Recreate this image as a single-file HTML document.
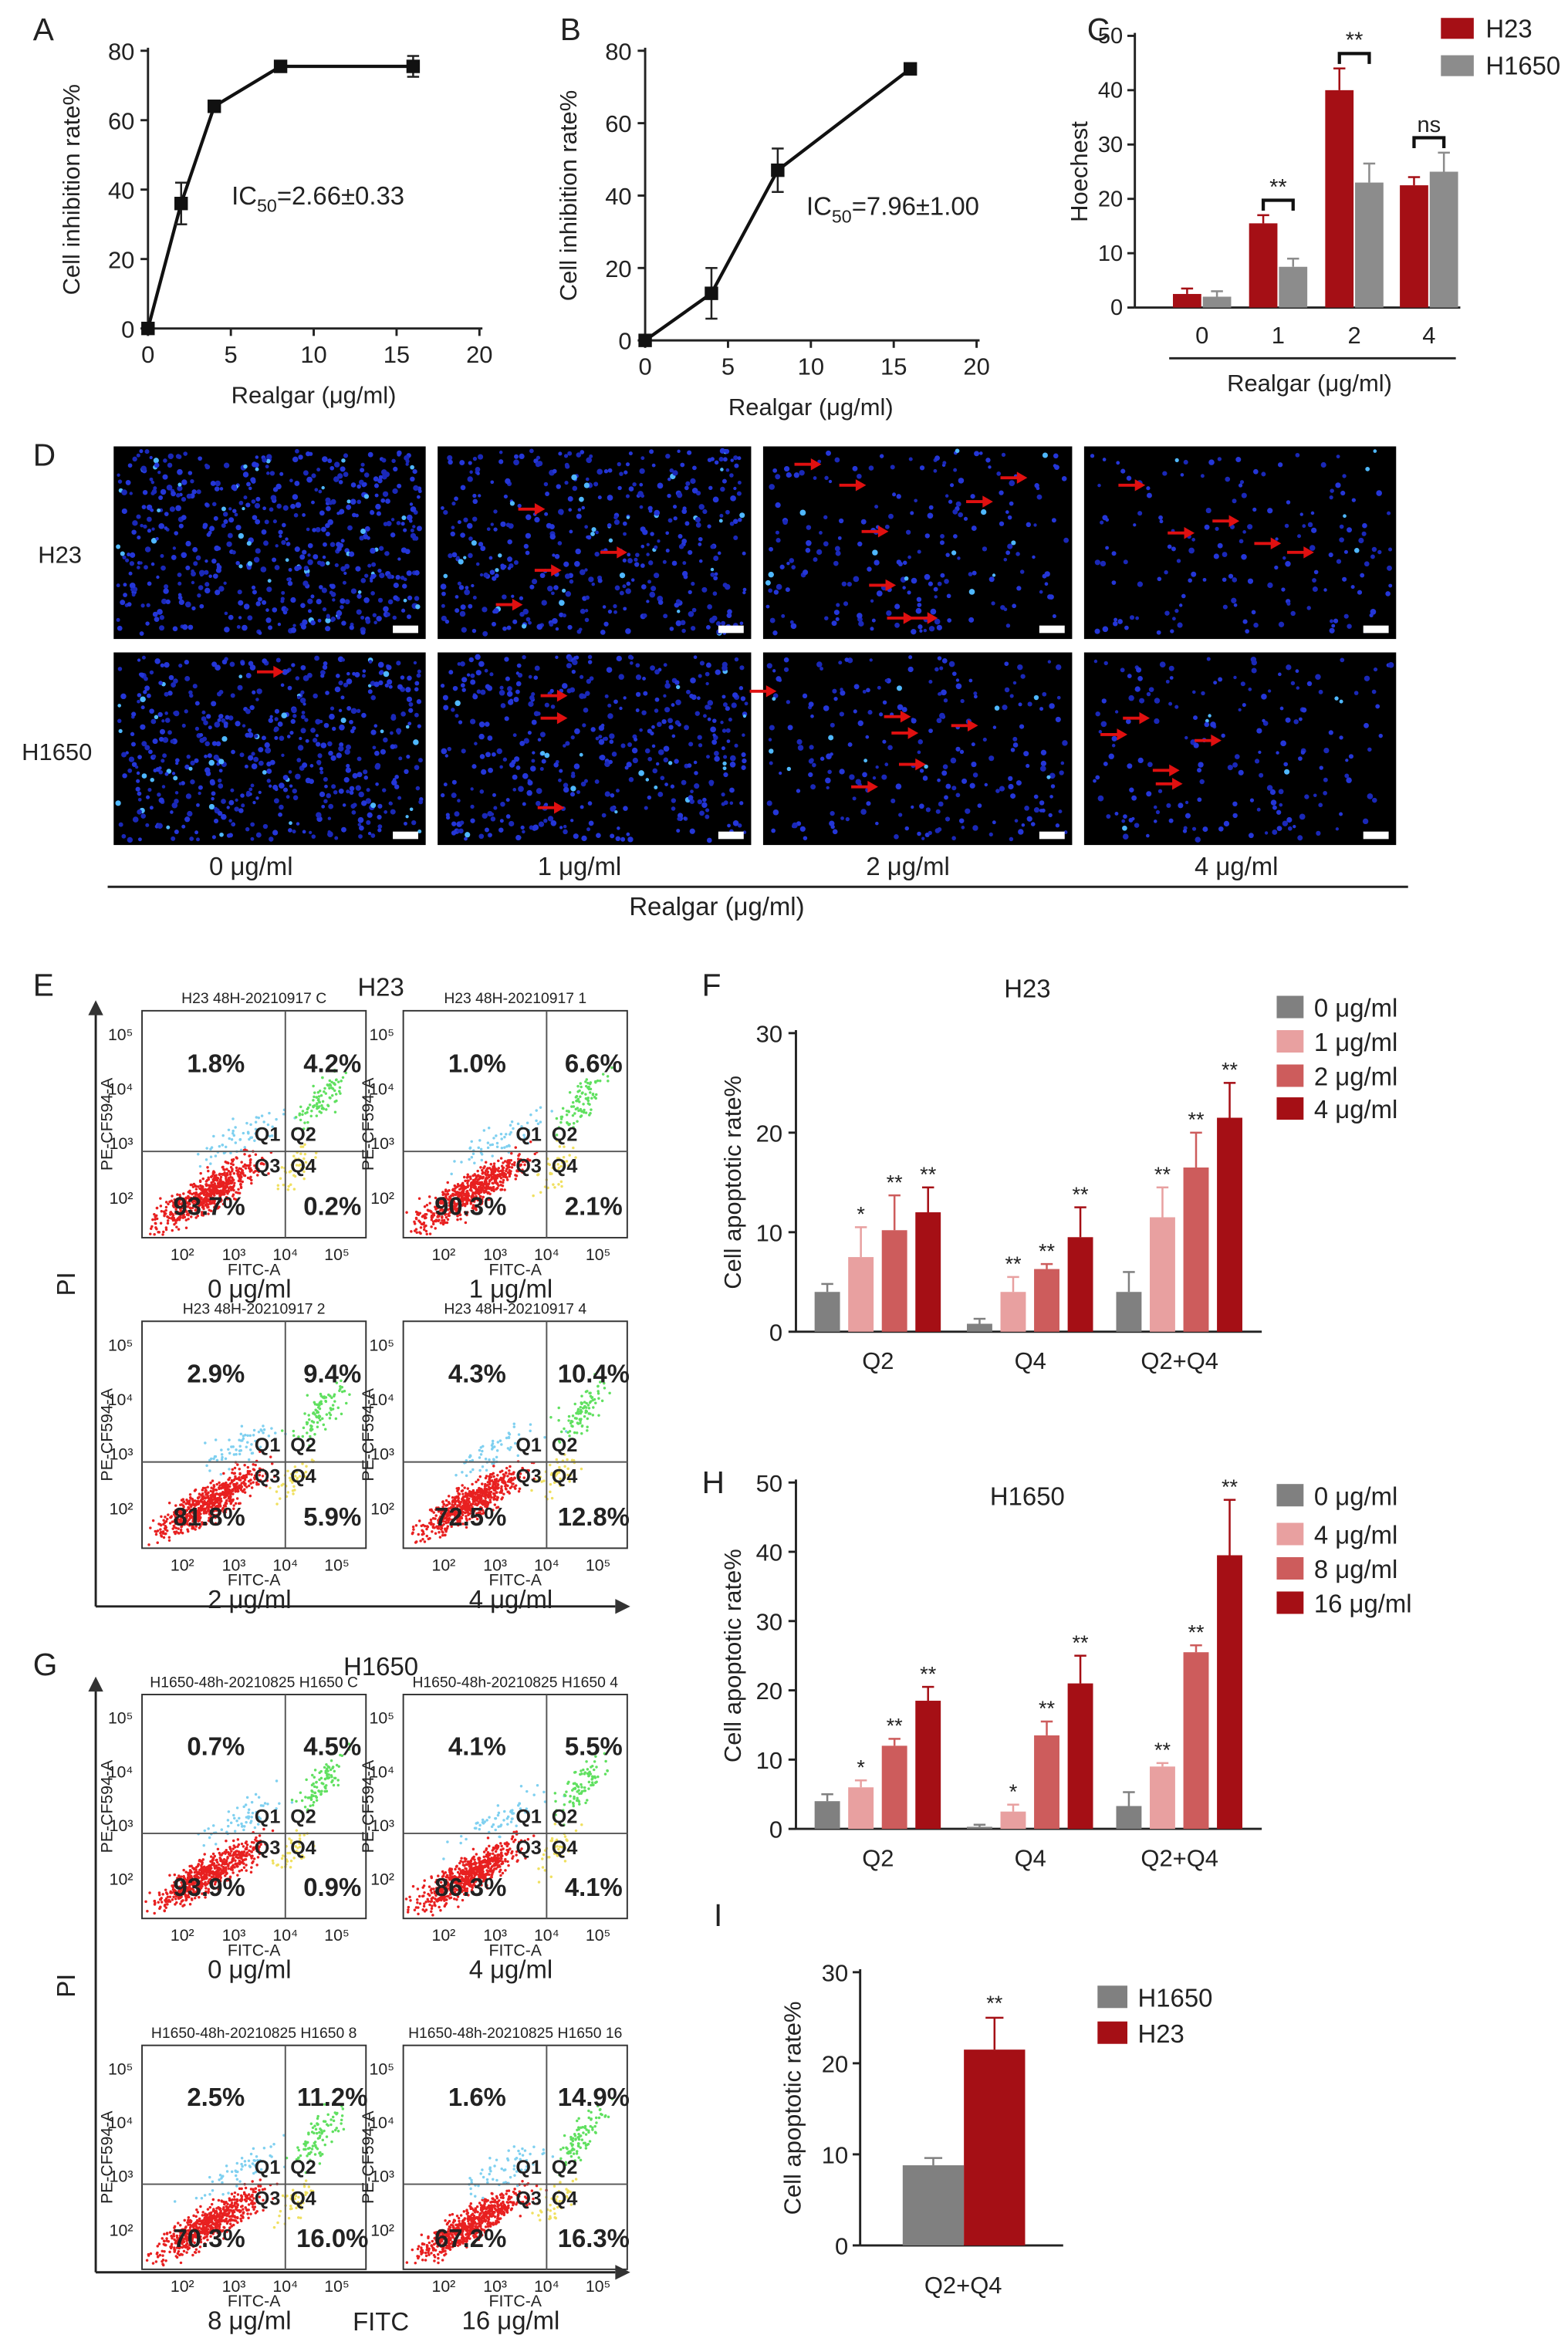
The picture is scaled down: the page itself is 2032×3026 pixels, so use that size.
<!DOCTYPE html>
<html><head><meta charset="utf-8"><style>
html,body{margin:0;padding:0;background:#fff;}
#wrap{width:2032px;height:3026px;overflow:hidden;}
text{font-family:"Liberation Sans",sans-serif;fill:#222;}
</style></head><body>
<div id="wrap">
<svg id="svg" width="2032" height="3026" viewBox="0 0 1050 1564" xmlns="http://www.w3.org/2000/svg"></svg>
</div>
<script>
// ---- data ----
const aX=[0,2,4,8,16], aY=[0,36,64,75.5,75.5], aErr=[0,6,1,0.5,3];
const bX=[0,4,8,16], bY=[0,13,47,75], bErr=[0,7,6,0.5];
const cCats=['0','1','2','4'], cH23=[2.5,15.5,40,22.5], cH1650=[2,7.5,23,25], cH23Err=[1,1.5,4,1.5], cH1650Err=[1,1.5,3.5,3.5];
const cSig=['','**','**','ns'];
const fCats=['Q2','Q4','Q2+Q4'];
const fVals=[[4,0.8,4],[7.5,4,11.5],[10.2,6.3,16.5],[12,9.5,21.5]];
const fErr=[[0.8,0.5,2],[3,1.5,3],[3.5,0.5,3.5],[2.5,3,3.5]];
const fStars=[['','',''],['*','**','**'],['**','**','**'],['**','**','**']];
const fLegend=['0 μg/ml','1 μg/ml','2 μg/ml','4 μg/ml'];
const hVals=[[4,0.3,3.3],[6,2.5,9],[12,13.5,25.5],[18.5,21,39.5]];
const hErr=[[1,0.3,2],[1,1,0.5],[1,2,1],[2,4,8]];
const hStars=[['','',''],['*','*','**'],['**','**','**'],['**','**','**']];
const hLegend=['0 μg/ml','4 μg/ml','8 μg/ml','16 μg/ml'];
const iCats=['H1650','H23'], iVals=[8.8,21.5], iErr=[0.8,3.5];
const barColors=['#808080','#e8a0a0','#cd5c5c','#a50f15'];
const flowE=[['H23 48H-20210917 C','1.8%','4.2%','93.7%','0.2%','0 μg/ml'],['H23 48H-20210917 1','1.0%','6.6%','90.3%','2.1%','1 μg/ml'],['H23 48H-20210917 2','2.9%','9.4%','81.8%','5.9%','2 μg/ml'],['H23 48H-20210917 4','4.3%','10.4%','72.5%','12.8%','4 μg/ml']];
const flowG=[['H1650-48h-20210825 H1650 C','0.7%','4.5%','93.9%','0.9%','0 μg/ml'],['H1650-48h-20210825 H1650 4','4.1%','5.5%','86.3%','4.1%','4 μg/ml'],['H1650-48h-20210825 H1650 8','2.5%','11.2%','70.3%','16.0%','8 μg/ml'],['H1650-48h-20210825 H1650 16','1.6%','14.9%','67.2%','16.3%','16 μg/ml']];

const svg=document.getElementById('svg');
const NS='http://www.w3.org/2000/svg';
function el(tag,attrs,parent,txt){const e=document.createElementNS(NS,tag);for(const k in attrs)e.setAttribute(k,attrs[k]);if(txt!==undefined)e.textContent=txt;(parent||svg).appendChild(e);return e;}
function txt(x,y,s,size,name,opts){const t=el('text',Object.assign({x:x,y:y,'font-size':size,'text-anchor':'middle'},opts||{}),null,s);


return t;}
function line(x1,y1,x2,y2,name,w,c){const l=el('line',{x1,y1,x2,y2,stroke:c||'#222','stroke-width':w||1.5});


return l;}
let seed=7;function rnd(){seed=(seed*16807)%2147483647;return (seed-1)/2147483646;}
function gauss(){return (rnd()+rnd()+rnd()-1.5)/0.5*0.5;}

// panel labels
[['A',22,27],['B',375,27],['C',728,27],['D',22,312],['E',22,667],['F',470,667],['G',22,1122],['H',470,1000],['I',478,1290]].forEach(p=>{txt(p[1],p[2],p[0],21,'panel-label-'+p[0].toLowerCase(),{'text-anchor':'start'});});

// line charts
function lineChart(key,ax,xs,ys,errs,ic,icx,icy){
 const sx=v=>ax.x0+(v/20)*(ax.x1-ax.x0), sy=v=>ax.y0-(v/80)*(ax.y0-ax.y1);
 line(ax.x0,ax.y0,ax.x0,ax.y1-2,key+'-y-axis');line(ax.x0,ax.y0,ax.x1+2,ax.y0,key+'-x-axis');
 for(let v=0;v<=80;v+=20){line(ax.x0-5,sy(v),ax.x0,sy(v),key+'-y-tick');txt(ax.x0-9,sy(v)+6,String(v),16,key+'-y-tick-label',{'text-anchor':'end'});}
 for(let v=0;v<=20;v+=5){line(sx(v),ax.y0,sx(v),ax.y0+5,key+'-x-tick');txt(sx(v),ax.y0+23,String(v),16,key+'-x-tick-label');}
 const pts=xs.map((x,i)=>sx(x)+','+sy(ys[i])).join(' ');
 const pl=el('polyline',{points:pts,fill:'none',stroke:'#111','stroke-width':2.2});
 
 
 xs.forEach((x,i)=>{const cx=sx(x),cy=sy(ys[i]);
  if(errs[i]>0.6){line(cx,sy(ys[i]+errs[i]),cx,sy(ys[i]-errs[i]),key+'-error-bar',1.3);line(cx-4,sy(ys[i]+errs[i]),cx+4,sy(ys[i]+errs[i]),key+'-error-cap',1.3);line(cx-4,sy(ys[i]-errs[i]),cx+4,sy(ys[i]-errs[i]),key+'-error-cap',1.3);}
  const r=el('rect',{x:cx-4.5,y:cy-4.5,width:9,height:9,fill:'#111'});
  
  });
 const t=txt(icx,icy,'',17,key+'-ic50-label',{'text-anchor':'start'});
 t.innerHTML='IC<tspan font-size="12" dy="5">50</tspan><tspan dy="-5">='+ic+'</tspan>';
 txt((ax.x0+ax.x1)/2,ax.y0+50,'Realgar (μg/ml)',16,key+'-x-axis-title');
 const yl=(ax.y0+ax.y1)/2;txt(ax.x0-46,yl,'Cell inhibition rate%',16,key+'-y-axis-title',{transform:'rotate(-90 '+(ax.x0-46)+' '+yl+')'});
}
lineChart('chart-a',{x0:99,x1:321,y0:220,y1:34},aX,aY,aErr,'2.66±0.33',155,137);
lineChart('chart-b',{x0:432,x1:654,y0:228,y1:34},bX,bY,bErr,'7.96±1.00',540,144);

// chart C
(function(){const x0=760,y0=206,y1=24,sy=v=>y0-(v/50)*(y0-y1);const cx=[805,856,907,957];
 line(x0,y0,x0,y1-2,'chart-c-y-axis');line(x0,y0,978,y0,'chart-c-x-axis');
 for(let v=0;v<=50;v+=10){line(x0-5,sy(v),x0,sy(v),'chart-c-y-tick');txt(x0-8,sy(v)+5,String(v),15,'chart-c-y-tick-label',{'text-anchor':'end'});}
 cCats.forEach((c,i)=>{txt(cx[i],y0+24,c,16,'chart-c-x-tick-label');
  [[cH23,cH23Err,'#a50f15',-10,'h23'],[cH1650,cH1650Err,'#8c8c8c',10,'h1650']].forEach(s=>{const bx=cx[i]+s[3];const v=s[0][i],e=s[1][i];
   const r=el('rect',{x:bx-9.5,y:sy(v),width:19,height:y0-sy(v),fill:s[2]});
   
   
   line(bx,sy(v),bx,sy(v+e),'chart-c-error-bar',1.3,s[2]);line(bx-4,sy(v+e),bx+4,sy(v+e),'chart-c-error-cap',1.3,s[2]);});
  if(cSig[i]){const top=sy(Math.max(cH23[i]+cH23Err[i],cH1650[i]+cH1650Err[i]))-10;
   const p=el('path',{d:`M${cx[i]-10} ${top+7}V${top}H${cx[i]+10}V${top+7}`,fill:'none',stroke:'#111','stroke-width':2.2});
   
   
   txt(cx[i],top-4,cSig[i],15,'chart-c-significance-label');}});
 line(783,240,975,240,'chart-c-group-line',1.5);
 txt(877,262,'Realgar (μg/ml)',16,'chart-c-x-axis-title');
 txt(728,115,'Hoechest',16,'chart-c-y-axis-title',{transform:'rotate(-90 728 115)'});
 [['H23','#a50f15',12],['H1650','#8c8c8c',37]].forEach(l=>{const r=el('rect',{x:965,y:l[2],width:22,height:14,fill:l[1]});
  
  
  txt(995,l[2]+13,l[0],17,'chart-c-legend-label',{'text-anchor':'start'});});
})();

// panel D microscopy
const cols=[[76,285],[293,503],[511,718],[726,935]],rows=[[299,428],[437,566]];
const dens=[[560,420,210,160],[520,420,230,180]];
const arrows=[[[],[[365,341],[376,382],[420,370],[350,405]],[[550,311],[580,325],[595,356],[665,336],[688,320],[600,392],[612,414],[628,414]],[[767,325],[800,357],[830,349],[858,364],[880,370]]],
[[[190,450]],[[380,466],[380,481],[378,541]],[[520,463],[610,480],[615,491],[655,486],[620,512],[588,527]],[[755,492],[770,481],[790,516],[818,496],[792,525]]]];
rows.forEach((r,ri)=>cols.forEach((c,ci)=>{const g=el('g',{});
 el('rect',{x:c[0],y:r[0],width:c[1]-c[0],height:r[1]-r[0],fill:'#000'},g);
 for(let k=0;k<dens[ri][ci];k++){const x=c[0]+3+rnd()*(c[1]-c[0]-6),y=r[0]+3+rnd()*(r[1]-r[0]-6);const q=rnd();const b=q<0.06?'#4fb8ff':(q<0.5?'#1a28b8':'#2436d8');el('circle',{cx:x,cy:y,r:1.1+rnd()*0.9,fill:b},g);}
 el('rect',{x:c[1]-22,y:r[1]-9,width:17,height:5,fill:'#fff'},g);
 arrows[ri][ci].forEach(a=>{el('line',{x1:a[0]-18,y1:a[1],x2:a[0]-4,y2:a[1],stroke:'#e01010','stroke-width':2},g);el('path',{d:`M${a[0]} ${a[1]}l-7 -4v8z`,fill:'#e01010'},g);});
}));
txt(40,377,'H23',16,'row-label-h23');txt(38,509,'H1650',16,'row-label-h1650');
['0 μg/ml','1 μg/ml','2 μg/ml','4 μg/ml'].forEach((s,i)=>txt([168,388,608,828][i],586,s,17,'microscopy-concentration-label'));
line(72,594,943,594,'microscopy-group-line',1.5);txt(480,613,'Realgar (μg/ml)',17,'microscopy-axis-title');

// flow plots
function flow(bx,by,w,h,d,key){const g=el('g',{});
 const qx=bx+w*0.64,qy=by+h*0.62;
 el('rect',{x:bx,y:by,width:w,height:h,fill:'#fff',stroke:'#333','stroke-width':1},g);
 const pts=[[ '#e82020',650,bx+w*0.3,by+h*0.8,0.22,0.14],['#7fd0f0',60,bx+w*0.45,by+h*0.55,0.2,0.12],['#60e060',90,bx+w*0.8,by+h*0.4,0.1,0.12],['#f0e060',40,bx+w*0.68,by+h*0.7,0.07,0.08]];
 pts.forEach(p=>{for(let k=0;k<p[1];k++){const t=gauss();const x=p[2]+t*w*p[4]+gauss()*w*0.05,y=p[3]-t*h*p[5]*0.9+gauss()*h*0.07;if(x>bx+2&&x<bx+w-2&&y>by+2&&y<by+h-2)el('circle',{cx:x,cy:y,r:0.9,fill:p[0]},g);}});
 el('line',{x1:qx,y1:by,x2:qx,y2:by+h,stroke:'#555','stroke-width':1},g);el('line',{x1:bx,y1:qy,x2:bx+w,y2:qy,stroke:'#555','stroke-width':1},g);
 const T=(x,y,s,sz,a,wt)=>{const t=el('text',{x,y,'font-size':sz,'text-anchor':a||'middle','font-weight':wt||'normal'},g,s);};
 T(bx+w/2,by-5,d[0],10);
 T(bx+w*0.33,by+h*0.27,d[1],17,'middle','bold');T(bx+w*0.85,by+h*0.27,d[2],17,'middle','bold');
 T(bx+w*0.3,by+h*0.9,d[3],17,'middle','bold');T(bx+w*0.85,by+h*0.9,d[4],17,'middle','bold');
 T(qx-12,qy-7,'Q1',13,'middle','bold');T(qx+12,qy-7,'Q2',13,'middle','bold');T(qx-12,qy+14,'Q3',13,'middle','bold');T(qx+12,qy+14,'Q4',13,'middle','bold');
 ['10²','10³','10⁴','10⁵'].forEach((s,i)=>{T(bx+w*(0.18+i*0.23),by+h+15,s,11);T(bx-6,by+h*(0.85-i*0.24),s,11,'end');});
 T(bx+w/2,by+h+25,'FITC-A',11);
 const yl=by+h/2;el('text',{x:bx-20,y:yl,'font-size':11,'text-anchor':'middle',transform:`rotate(-90 ${bx-20} ${yl})`},g,'PE-CF594-A');
 T(bx+w*0.48,by+h+40,d[5],17);
}
[[95,677],[270,677],[95,885],[270,885]].forEach((p,i)=>flow(p[0],p[1],150,152,flowE[i],'flow-plot-h23-'+i));
[[95,1135],[270,1135],[95,1370],[270,1370]].forEach((p,i)=>flow(p[0],p[1],150,150,flowG[i],'flow-plot-h1650-'+i));
function bigAxes(top,bot,key){line(64,bot,64,top+8,key+'-pi-axis',1.5);el('path',{d:`M64 ${top}l-5 10h10z`,fill:'#333'});line(64,bot,412,bot,key+'-fitc-axis',1.5);el('path',{d:`M422 ${bot}l-10 -5v10z`,fill:'#333'});}
bigAxes(670,1076,'panel-e');bigAxes(1123,1522,'panel-g');
txt(255,667,'H23',17,'panel-e-title');txt(255,1122,'H1650',17,'panel-g-title');
txt(50,860,'PI',17,'panel-e-y-title',{transform:'rotate(-90 50 860)'});txt(50,1330,'PI',17,'panel-g-y-title',{transform:'rotate(-90 50 1330)'});
txt(255,1561,'FITC',17,'panel-g-x-title');

// grouped bar charts F,H
function grouped(key,y0,y1,max,step,vals,errs,stars,legend,legY,title,titleY){const x0=533,sy=v=>y0-(v/max)*(y0-y1);const gx=[588,690,790];
 line(x0,y0,x0,y1-2,key+'-y-axis');line(x0,y0,845,y0,key+'-x-axis');
 for(let v=0;v<=max;v+=step){line(x0-5,sy(v),x0,sy(v),key+'-y-tick');txt(x0-9,sy(v)+6,String(v),16,key+'-y-tick-label',{'text-anchor':'end'});}
 fCats.forEach((c,j)=>{txt(gx[j],y0+25,c,16,key+'-x-tick-label');
  for(let s=0;s<4;s++){const bx=gx[j]-34+s*22.5;const v=vals[s][j],e=errs[s][j];
   const r=el('rect',{x:bx-8.5,y:sy(v),width:17,height:y0-sy(v),fill:barColors[s]});
   
   
   line(bx,sy(v),bx,sy(v+e),key+'-error-bar',1.3,barColors[s]);line(bx-4,sy(v+e),bx+4,sy(v+e),key+'-error-cap',1.3,barColors[s]);
   if(stars[s][j])txt(bx,sy(v+e)-4,stars[s][j],14,key+'-significance');}});
 const yl=(y0+y1)/2;txt(496,yl,'Cell apoptotic rate%',16,key+'-y-axis-title',{transform:'rotate(-90 496 '+yl+')'});
 txt(688,titleY,title,17,key+'-title');
 legend.forEach((l,s)=>{const r=el('rect',{x:855,y:legY[s]-8,width:18,height:15,fill:barColors[s]});
  
  
  txt(880,legY[s]+6,l,17,key+'-legend-label',{'text-anchor':'start'});});
}
grouped('chart-f',892,692,30,10,fVals,fErr,fStars,fLegend,[675,698,721,743],'H23',668);
grouped('chart-h',1225,993,50,10,hVals,hErr,hStars,hLegend,[1002,1028,1051,1074],'H1650',1008);

// chart I
(function(){const x0=576,y0=1504,y1=1321,sy=v=>y0-(v/30)*(y0-y1);const bx=[625,666];const cl=['#808080','#a50f15'];
 line(x0,y0,x0,y1-2,'chart-i-y-axis');line(x0,y0,712,y0,'chart-i-x-axis');
 for(let v=0;v<=30;v+=10){line(x0-5,sy(v),x0,sy(v),'chart-i-y-tick');txt(x0-8,sy(v)+6,String(v),16,'chart-i-y-tick-label',{'text-anchor':'end'});}
 iCats.forEach((c,i)=>{const v=iVals[i],e=iErr[i];const r=el('rect',{x:bx[i]-20.5,y:sy(v),width:41,height:y0-sy(v),fill:cl[i]});
  
  
  line(bx[i],sy(v),bx[i],sy(v+e),'chart-i-error-bar',1.3,cl[i]);line(bx[i]-6,sy(v+e),bx[i]+6,sy(v+e),'chart-i-error-cap',1.3,cl[i]);});
 txt(bx[1],sy(iVals[1]+iErr[1])-5,'**',14,'chart-i-significance');
 txt(645,1536,'Q2+Q4',16,'chart-i-x-tick-label');
 txt(536,1412,'Cell apoptotic rate%',16,'chart-i-y-axis-title',{transform:'rotate(-90 536 1412)'});
 iCats.forEach((c,i)=>{const r=el('rect',{x:735,y:1330+i*24,width:20,height:15,fill:cl[i]});
  
  
  txt(762,1344+i*24,c,17,'chart-i-legend-label',{'text-anchor':'start'});});
})();
</script>
</body></html>
